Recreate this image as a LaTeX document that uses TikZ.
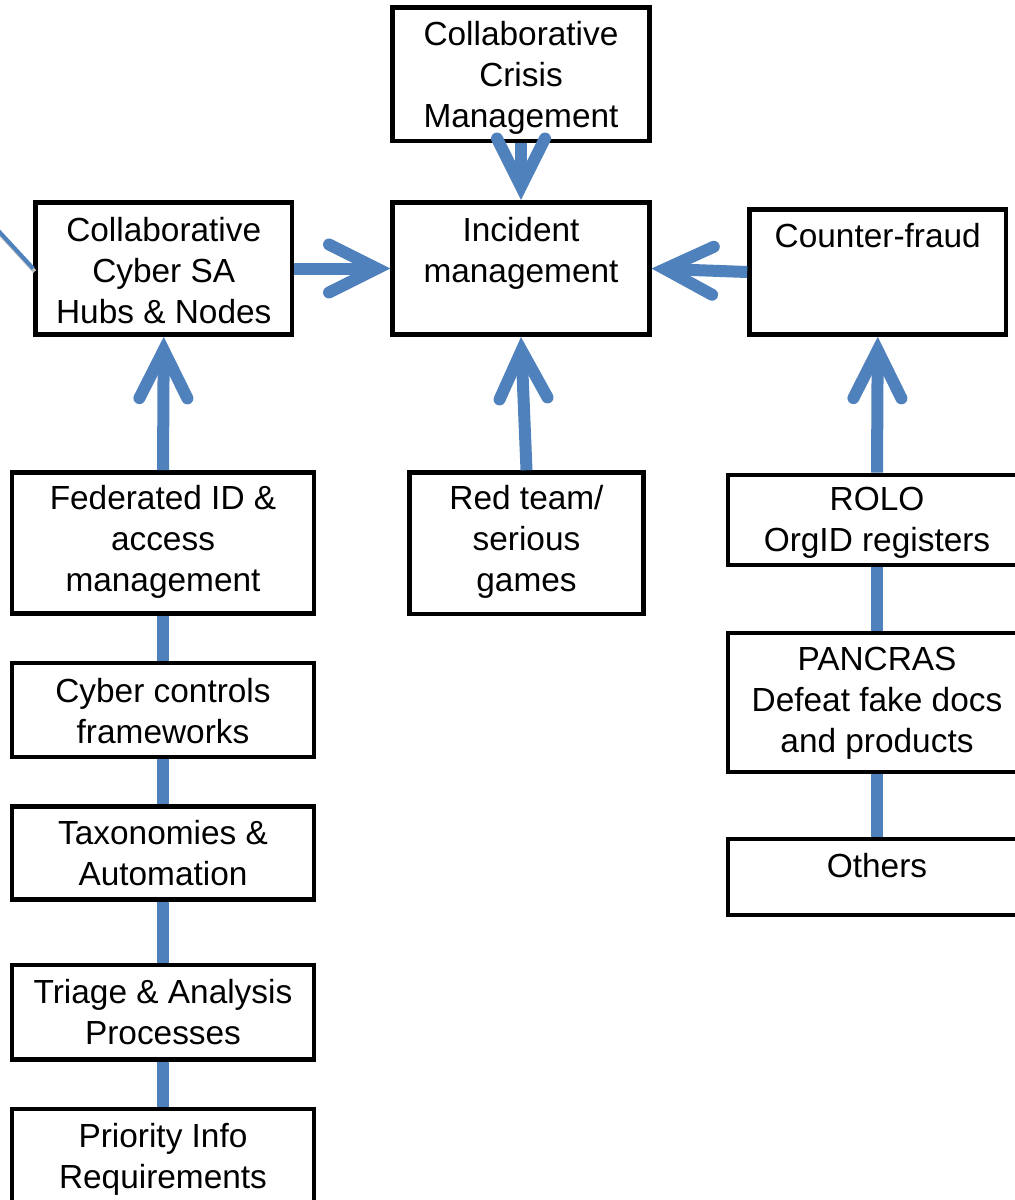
\documentclass[tikz,border=0pt]{standalone}
\usepackage{fontspec}
\setmainfont{Liberation Sans}
\usetikzlibrary{arrows.meta,calc}
\definecolor{linkblue}{HTML}{4F81BD}
\begin{document}
\begin{tikzpicture}[x=0.5pt,y=-0.5pt,
  box/.style={draw=black, line width=2.3pt, fill=white, inner sep=0pt},
  lbl/.style={anchor=north, align=center, inner sep=0pt,
              font=\fontsize{16.7}{20.5}\selectfont},
  flow/.style={draw=linkblue, line width=6pt,
               -{Straight Barb[length=24pt, width=24pt, line cap=round, line join=miter]}},
  link/.style={draw=linkblue, line width=6pt},
  feedline/.style={draw=linkblue, line width=2pt}
]
\useasboundingbox (0,0) rectangle (1015,1200);
\fill[white] (0,0) rectangle (1015,1200);
\clip (0,0) rectangle (1015,1200);

% ---- boxes ----
\node[box, minimum width=128.25pt, minimum height=66.75pt] (crisis) at (521,74.25) {};
\node[box, minimum width=128.25pt, minimum height=66.25pt] (inc)    at (521,268.5) {};
\node[box, minimum width=128.25pt, minimum height=66pt]    (hubs)   at (163.75,268.5) {};
\node[box, minimum width=128.25pt, minimum height=62.5pt]  (cf)     at (877.75,272) {};

\node[box, minimum width=151pt, minimum height=70.5pt] (fed)  at (163,543) {};
\node[box, minimum width=117pt, minimum height=70.75pt] (red) at (526.5,543.25) {};
\node[box, minimum width=149pt, minimum height=45pt]   (rolo) at (877,520) {};
\node[box, minimum width=149pt, minimum height=69.5pt] (pan)  at (877,702.5) {};
\node[box, minimum width=149pt, minimum height=38pt]   (oth)  at (877,877) {};

\node[box, minimum width=151pt, minimum height=47pt]   (cc)   at (163,710) {};
\node[box, minimum width=151pt, minimum height=46.5pt] (tax)  at (163,853) {};
\node[box, minimum width=151pt, minimum height=47.25pt] (tri) at (163,1012.25) {};
\node[box, minimum width=151pt, minimum height=48pt]   (pri)  at (163,1157) {};

% ---- labels ----
\node[lbl] (crisis-t) at ($(crisis.north)+(0,16)$) {Collaborative\\Crisis\\Management};
\node[lbl] (inc-t)    at ($(inc.north)+(0,17)$)    {Incident\\management};
\node[lbl] (hubs-t)   at ($(hubs.north)+(0,17)$)   {Collaborative\\Cyber SA\\Hubs \& Nodes};
\node[lbl] (cf-t)     at ($(cf.north)+(0,16)$)     {Counter-fraud};
\node[lbl] (fed-t)    at ($(fed.north)+(0,15)$)    {Federated ID \&\\access\\management};
\node[lbl] (red-t)    at ($(red.north)+(0,15)$)    {Red team/\\serious\\games};
\node[lbl] (rolo-t)   at ($(rolo.north)+(0,14)$)   {ROLO\\OrgID registers};
\node[lbl] (pan-t)    at ($(pan.north)+(0,16)$)    {PANCRAS\\Defeat fake docs\\and products};
\node[lbl] (oth-t)    at ($(oth.north)+(0,16)$)    {Others};
\node[lbl] (cc-t)     at ($(cc.north)+(0,17)$)     {Cyber controls\\frameworks};
\node[lbl] (tax-t)    at ($(tax.north)+(0,16)$)    {Taxonomies \&\\Automation};
\node[lbl] (tri-t)    at ($(tri.north)+(0,16)$)    {Triage \& Analysis\\Processes};
\node[lbl] (pri-t)    at ($(pri.north)+(0,16)$)    {Priority Info\\Requirements};

% ---- arrows into the incident hub ----
\draw[flow] (crisis.south) -- (inc.north);
\draw[flow] (hubs.east) -- (inc.west);
\draw[flow] (cf.west) -- (inc.east);
\draw[flow] (red.north) -- (inc.south);
\draw[flow] (fed.north) -- (hubs.south);
\draw[flow] (rolo.north) -- (cf.south);

% ---- chains ----
\draw[link] (fed.south) -- (cc.north);
\draw[link] (cc.south) -- (tax.north);
\draw[link] (tax.south) -- (tri.north);
\draw[link] (tri.south) -- (pri.north);
\draw[link] (rolo.south) -- (pan.north);
\draw[link] (pan.south) -- (oth.north);

% ---- incoming feed from the left ----
\coordinate (feed) at (-6,226);
\draw[draw=black!25, line width=2pt] ($(feed)+(1.5,3)$) -- ($(hubs.west)+(1.5,3)$);
\draw[feedline] (feed) -- (hubs.west);
\end{tikzpicture}
\end{document}
